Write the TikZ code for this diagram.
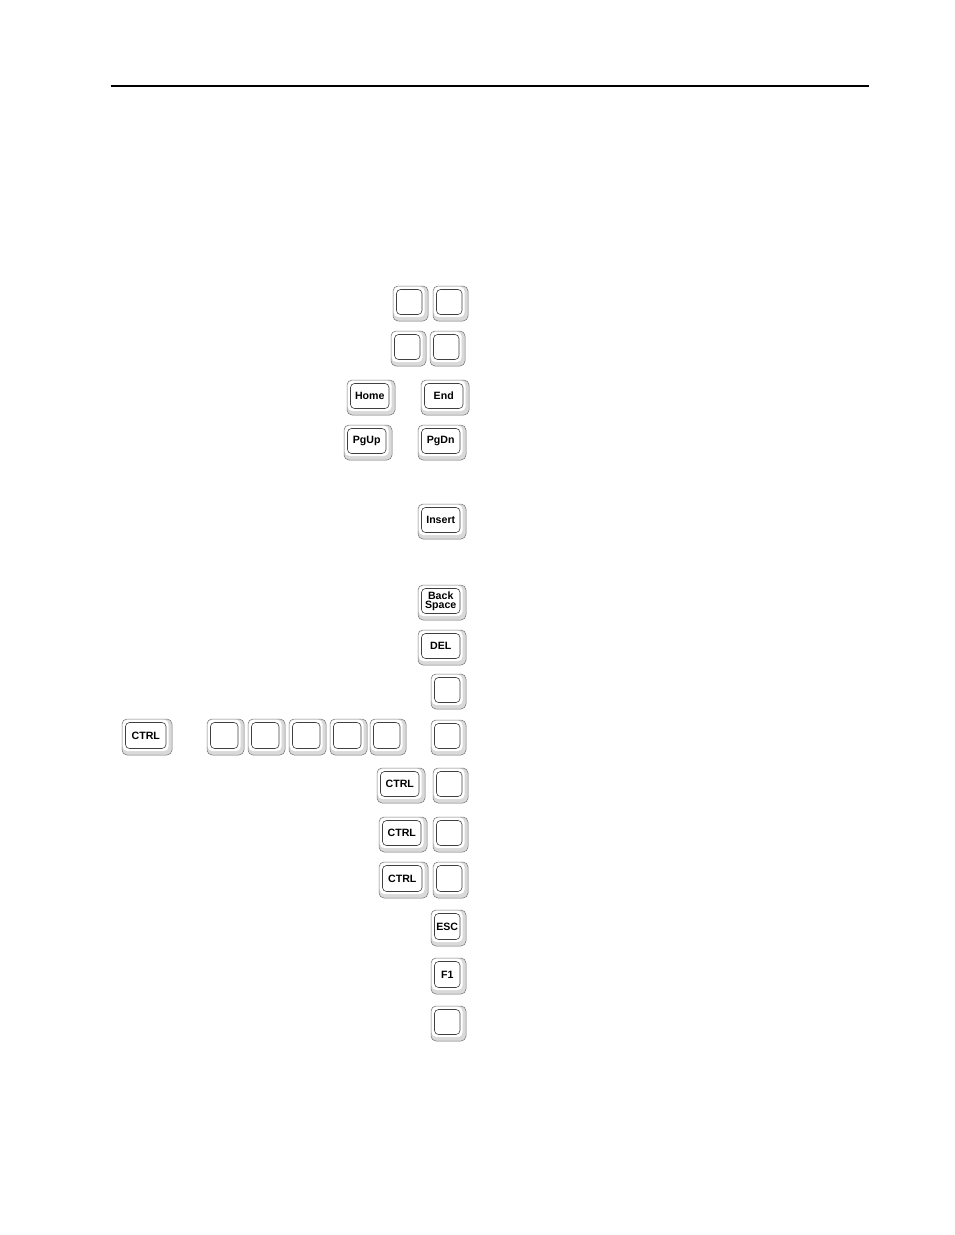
\documentclass[tikz,border=0pt]{standalone}
\usepackage{fontspec}
\setmainfont{Liberation Sans}
\begin{document}
\begin{tikzpicture}[x=1pt,y=-1pt,
  outerkey/.style={draw=black!55,fill=black!15,line width=0.5pt,rounded corners=5pt},
  lightkey/.style={fill=white,rounded corners=4.5pt},
  innerkey/.style={draw=black!75,fill=white,line width=0.6pt,rounded corners=4pt},
  keylabel/.style={font=\fontsize{10.6}{10.6}\selectfont\bfseries,inner sep=0pt,align=center}]
\useasboundingbox (0,0) rectangle (954,1235);
\draw[line width=1.3pt] (111,86) -- (869,86);
% \kcap{name}{x1}{y1}{x2}{y2}{label}
\newcommand\kcap[6]{%
  \draw[outerkey] (#2,#3) rectangle (#4,#5);
  \fill[lightkey] (#2+0.7,#3+0.7) rectangle (#4-3.5,#5-4);
  \draw[innerkey] (#2+3.5,#3+3.5) rectangle (#4-6,#5-6.5);
  \node[keylabel] (#1) at ({(#2+#4-2.5)/2},{(#3+#5-3)/2}) {#6};}
\kcap{a1}{393}{286}{428}{321}{}
\kcap{a2}{433}{286}{468}{321}{}
\kcap{b1}{391}{331}{426}{366}{}
\kcap{b2}{430}{331}{465}{366}{}
\kcap{home}{347}{380}{395}{415}{Home}
\kcap{end}{421}{380}{469}{415}{End}
\kcap{pgup}{344}{425}{392}{460}{PgUp}
\kcap{pgdn}{418}{425}{466}{460}{PgDn}
\kcap{ins}{418}{504}{466}{539}{Insert}
\kcap{bs}{418}{585}{466}{620}{Back\\[-2pt]Space}
\kcap{del}{418}{630}{466}{665}{DEL}
\kcap{c1}{431}{674}{466}{709}{}
\kcap{ctrla}{122}{719}{172}{755}{CTRL}
\kcap{d1}{207}{719}{244}{755}{}
\kcap{d2}{248}{719}{285}{755}{}
\kcap{d3}{289}{719}{326}{755}{}
\kcap{d4}{330}{719}{367}{755}{}
\kcap{d5}{370}{719}{406}{755}{}
\kcap{c2}{431}{720}{466}{755}{}
\kcap{ctrlb}{377}{768}{425}{803}{CTRL}
\kcap{e1}{433}{768}{468}{803}{}
\kcap{ctrlc}{379}{817}{427}{852}{CTRL}
\kcap{e2}{433}{817}{468}{852}{}
\kcap{ctrld}{379}{862}{428}{898}{CTRL}
\kcap{e3}{433}{862}{468}{898}{}
\kcap{esc}{431}{910}{466}{946}{ESC}
\kcap{fone}{431}{958}{466}{994}{F1}
\kcap{f2}{431}{1006}{466}{1041}{}
\end{tikzpicture}
\end{document}
